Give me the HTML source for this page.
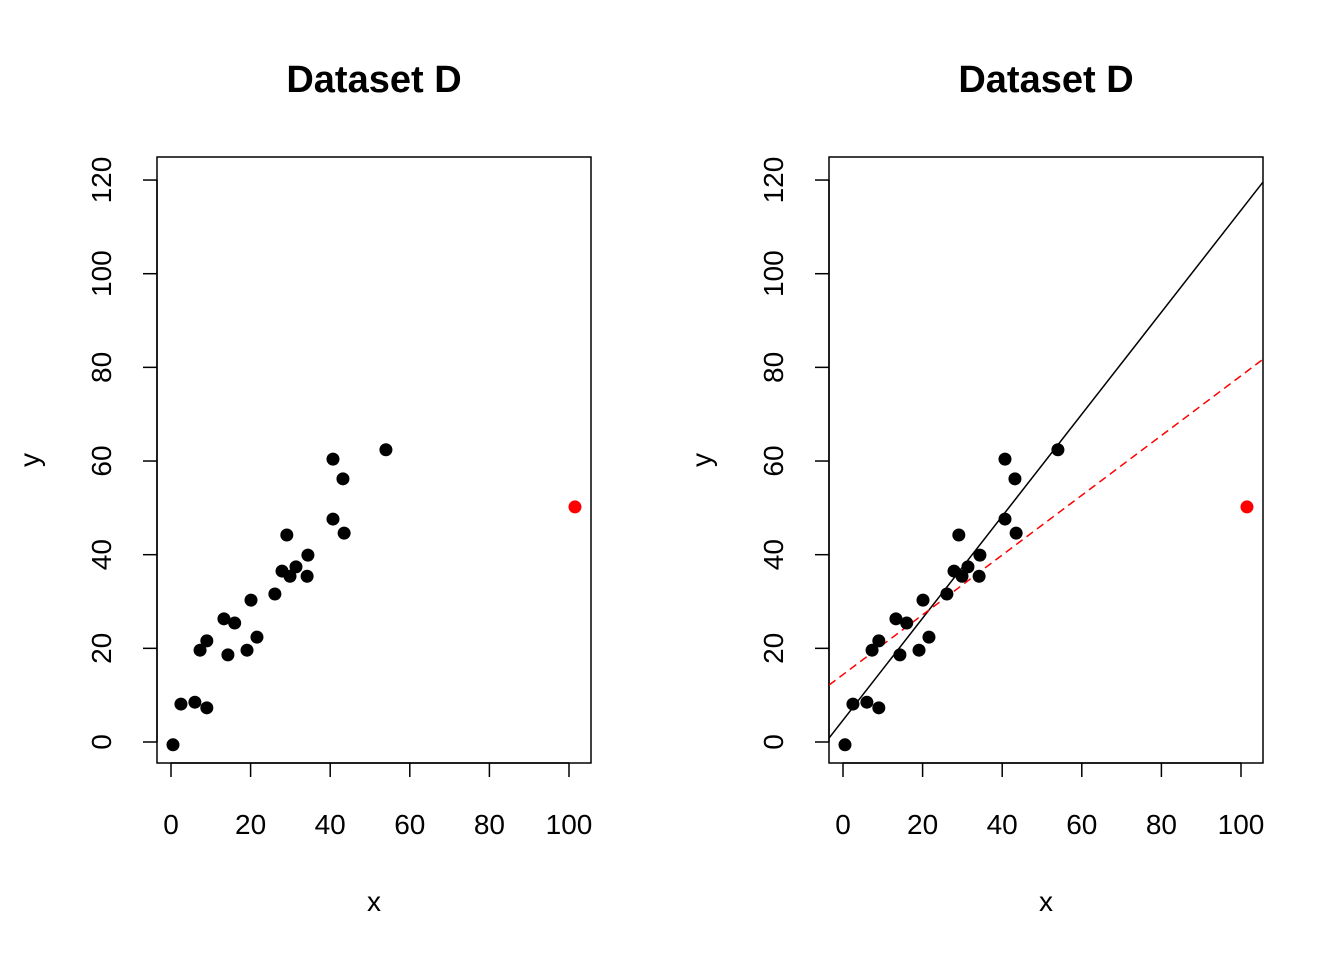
<!DOCTYPE html>
<html><head><meta charset="utf-8"><style>
html,body{margin:0;padding:0;background:#fff;}
svg{display:block;font-family:"Liberation Sans",Arial,sans-serif;}
</style></head><body>
<svg id="c" width="1344" height="960"></svg>
<script>
const xs=[0.5,2.5,6,9,7.3,9,13.3,14.3,16,19.1,20.1,21.6,26.1,27.9,29.1,29.9,31.4,34.2,34.4,40.7,40.7,43.2,43.5,54];
const ys=[-0.6,8.1,8.5,7.3,19.6,21.6,26.3,18.6,25.4,19.6,30.3,22.4,31.6,36.5,44.2,35.4,37.4,35.4,39.9,47.6,60.4,56.2,44.6,62.4];
const outlierX=[101.5];
const outlierY=[50.2];
const fitAll=[4.66,1.089];   // intercept, slope (black solid)
const fitOut=[14.4,0.638];  // intercept, slope (red dashed)
const xTicks=[0,20,40,60,80,100];
const yTicks=[0,20,40,60,80,100,120];
const svg=document.getElementById('c');
const NS='http://www.w3.org/2000/svg';
function mk(t,a,p){const e=document.createElementNS(NS,t);for(const k in a)e.setAttribute(k,a[k]);(p||svg).appendChild(e);return e;}
function panel(off,withLines,idx){
  const L=157+off,R=591+off,T=157,B=763;
  const sx=v=>171+off+v*3.98, sy=v=>742-v*4.683;
  const g=mk('g',{});
  
  
  const t=mk('text',{x:374+off,y:92,'text-anchor':'middle','font-size':38,'font-weight':'bold'},g);t.textContent='Dataset D';
  
  const box=mk('rect',{x:L,y:T,width:R-L,height:B-T,fill:'none',stroke:'#000','stroke-width':1.5},g);
  
  mk('line',{x1:sx(0),x2:sx(100),y1:B,y2:B,stroke:'#000','stroke-width':1.5},g);
  xTicks.forEach(v=>{mk('line',{x1:sx(v),x2:sx(v),y1:B,y2:B+14,stroke:'#000','stroke-width':1.5},g);
    const tx=mk('text',{x:sx(v),y:834,'text-anchor':'middle','font-size':28},g);tx.textContent=v;
    });
  mk('line',{x1:L,x2:L,y1:sy(0),y2:sy(120),stroke:'#000','stroke-width':1.5},g);
  yTicks.forEach(v=>{mk('line',{x1:L-14,x2:L,y1:sy(v),y2:sy(v),stroke:'#000','stroke-width':1.5},g);
    const ty=mk('text',{x:0,y:0,'text-anchor':'middle','font-size':28,transform:`translate(${L-46},${sy(v)}) rotate(-90)`},g);ty.textContent=v;
    });
  const xl=mk('text',{x:374+off,y:911,'text-anchor':'middle','font-size':28},g);xl.textContent='x';
  
  const yl=mk('text',{x:0,y:0,'text-anchor':'middle','font-size':28,transform:`translate(${39+off},460) rotate(-90)`},g);yl.textContent='y';
  
  if(withLines){
    const cp=mk('clipPath',{id:'cp'+idx},g);mk('rect',{x:L,y:T,width:R-L,height:B-T},cp);
    const x0=-3.5,x1=105.5;
    const l1=mk('line',{x1:sx(x0),y1:sy(fitAll[0]+fitAll[1]*x0),x2:sx(x1),y2:sy(fitAll[0]+fitAll[1]*x1),stroke:'#000','stroke-width':1.5,'clip-path':`url(#cp${idx})`},g);
    
    const l2=mk('line',{x1:sx(x0),y1:sy(fitOut[0]+fitOut[1]*x0),x2:sx(x1),y2:sy(fitOut[0]+fitOut[1]*x1),stroke:'#f00','stroke-width':1.5,'stroke-dasharray':'8,5','clip-path':`url(#cp${idx})`},g);
    
  }
  xs.forEach((v,i)=>{const c=mk('circle',{cx:sx(v),cy:sy(ys[i]),r:6.5,fill:'#000'},g);
    });
  outlierX.forEach((v,i)=>{const c=mk('circle',{cx:sx(v),cy:sy(outlierY[i]),r:6.5,fill:'#f00'},g);
    });
}
panel(0,false,1);
panel(672,true,2);
</script>
</body></html>
